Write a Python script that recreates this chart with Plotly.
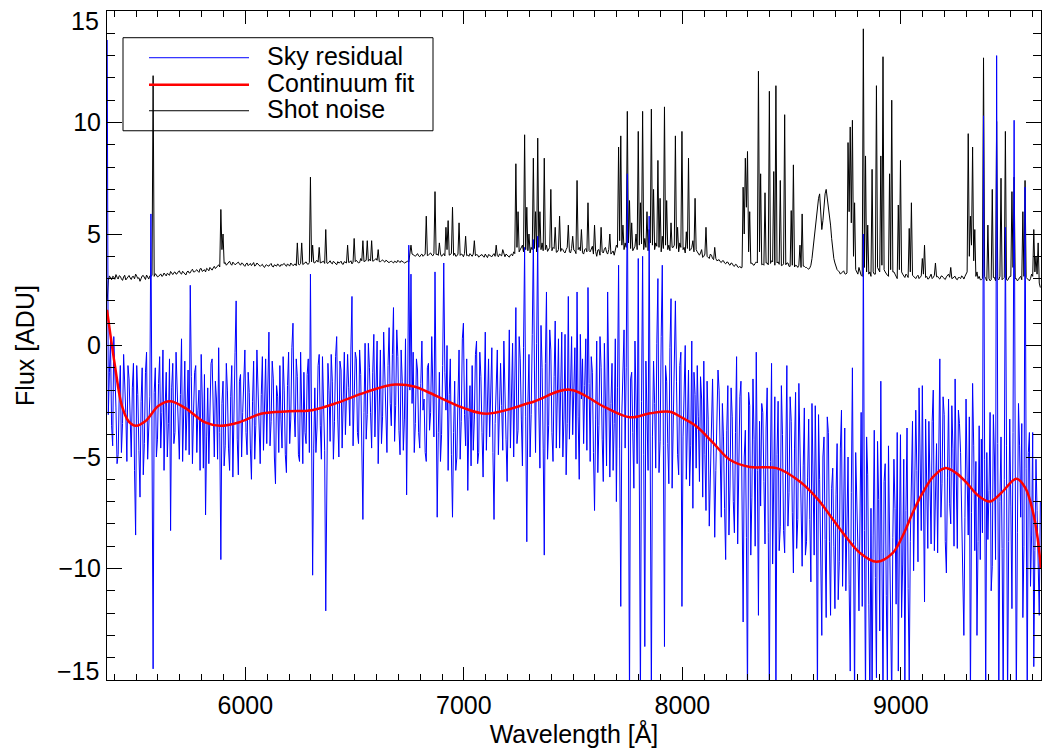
import plotly.graph_objects as go

# ---------------- data ----------------
# Spectra read on two interleaved wavelength grids:
# grid A: 5368, 5378, ...   grid B: 5373, 5383, ...
wl_start_a = 5368
wl_start_b = 5373
wl_step = 10

sky_residual_a = [
    13.7, -1.2, -3.6, 0.4, -2.8, -4.9, -0.9, -3.5, -1.6, -5.2,
    -1.5, -5.0, -0.8, -8.5, -2.2, -6.8, -1.0, -4.4, -0.3, -3.9,
    5.9, -14.5, -1.0, -4.2, -0.5, -3.0, -5.6, -1.2, -3.5, -8.3,
    -0.8, -3.9, -1.7, -5.1, 0.3, -2.6, -4.7, -1.1, 2.7, -5.3,
    -1.2, -4.8, -2.0, -0.4, -5.5, -7.6, -1.9, -3.3, -0.6, -5.0,
    -2.4, -0.1, -9.6, -1.6, -4.5, -2.0, -5.6, -0.9, -3.8, 2.0,
    -5.8, -1.3, -3.0, -0.2, -4.9, -2.1, -6.0, -0.7, -3.6, -1.8,
    -5.3, -0.5, -2.8, -4.4, 0.6, -3.4, -1.5, -6.2, -2.3, -0.9,
    -4.6, -2.0, -5.7, -0.3, -3.3, 1.0, -4.1, -1.4, -5.2, -2.5,
    -1.2, -4.4, -0.6, 3.2, -10.3, -1.9, -3.7, -0.4, -5.1, -2.2,
    -11.9, -0.8, -4.3, -1.6, -3.4, 0.4, -5.0, -1.1, -2.6, -4.0,
    -0.4, -3.6, 2.2, -2.9, -0.6, -4.4, -1.3, -7.8, 0.1, -3.1,
    -1.0, -4.6, 0.5, -2.5, -5.3, -0.2, -3.2, -1.4, -4.8, 0.8,
    -3.6, 1.7, -2.7, -0.5, -4.9, -1.6, -3.3, -6.7, 4.5, 3.2,
    -0.3, -3.5, -1.1, -4.6, 0.2, -2.4, -5.2, -0.8, -3.0, -1.5,
    3.3, -7.7, -1.2, -4.0, 3.7, -2.9, -5.6, -0.6, -7.7, -1.6,
    -5.0, -0.2, -3.4, 1.0, -4.5, -6.5, -1.8, -0.9, -3.3, 0.2,
    -4.8, -1.4, -5.9, 0.6, -2.6, -4.1, -0.1, -7.8, -2.2, -4.9,
    -0.8, -4.7, -1.5, -6.1, 0.7, -2.3, -5.0, 1.7, -3.8, -0.6,
    -5.4, 4.4, -8.8, -0.4, -3.1, 4.75, -4.8, 4.9, -5.5, -1.0,
    -9.4, 2.4, -3.6, -0.2, -5.2, 1.1, -2.7, -4.6, 0.6, -3.3,
    -5.8, 2.2, -1.9, -4.0, -0.1, 2.4, -6.0, -2.4, -4.4, 0.3,
    2.6, -5.2, -1.2, -7.4, 0.2, -3.6, -1.0, -6.1, -2.4, 2.4,
    -5.9, -0.8, -3.5, -7.0, 3.6, -11.7, -1.3, -4.6, 7.7, -16.0,
    -1.2, -6.4, -2.0, 3.9, -16.0, 4.0, -13.5, -2.8, 5.8, -16.0,
    -0.7, -5.5, 3.0, -4.3, 3.6, -13.5, -1.6, -6.2, 2.1, -3.9,
    2.0, -4.9, -0.9, -11.7, -2.4, -6.0, -1.1, -4.5, -7.3, -2.2,
    -0.9, -6.1, -2.4, -0.7, -7.4, -3.3, -5.9, -1.5, -8.6, -3.8,
    -2.0, -7.7, -4.1, -9.6, -1.8, -6.3, -3.2, -8.4, -0.5, -5.9,
    -1.6, -12.4, -3.8, -16.0, -2.7, -6.8, -4.2, -0.3, -12.1, -7.2,
    -3.0, -8.9, -1.9, -16.0, -0.8, -6.4, -16.0, -2.5, -8.1, -4.0,
    -9.3, -0.9, -6.6, -3.4, -10.2, -2.1, -7.8, -4.9, -9.9, -2.8,
    -8.8, -3.3, -10.6, -5.2, -2.7, -16.0, -6.0, -13.0, -4.1, -12.2,
    -3.9, -12.1, -5.5, -11.8, -4.4, -9.7, -2.9, -7.3, -11.0, -5.0,
    -14.6, -1.0, -16.0, -6.4, -11.9, -3.0, 5.0, -16.0, -5.8, -16.0,
    -16.0, -3.8, -14.9, -6.9, -1.6, -16.0, -5.3, -15.0, -7.9, -16.0,
    -5.1, -11.6, -14.6, -4.0, -9.8, -15.3, -3.7, -15.0, -5.6, -10.1,
    -2.9, -9.7, -4.3, -1.8, -11.5, -6.8, -3.4, -8.9, -2.0, -7.2,
    -9.3, -0.6, -6.2, -3.1, -10.2, -2.4, -8.0, -4.6, -1.5, -9.1,
    -3.5, -7.6, -13.0, -2.4, -8.5, -16.0, -1.7, -9.2, -13.0, -3.6,
    -4.2, 10.3, -16.0, -8.7, -3.0, -9.9, -5.0, 13.0, -16.0, -4.1,
    -16.0, 5.3, -16.0, -3.3, -11.8, 10.1, -16.0, -2.6, -7.7, -12.2,
    7.1, -16.0, -3.9, -8.5, -14.4, -5.1, -10.3, -7.0,
]

sky_residual_b = [
    -3.1, 0.2, -4.5, -1.0, -5.3, -2.2, -4.8, -0.4, -3.0, -0.9,
    -4.1, -1.9, -5.6, -0.9, -4.7, -2.5, -5.8, -1.2, -5.1, -2.3,
    -4.0, -2.1, -5.0, -1.7, -4.6, -0.2, -2.8, -5.0, -0.6, -1.9,
    -4.4, -0.3, -3.8, -2.2, -5.2, -0.7, -2.3, -4.9, -1.4, -3.0,
    -0.9, -2.9, -5.6, -2.4, -1.3, -4.1, -5.3, -0.8, -3.7, -1.6,
    -5.1, -3.9, -2.6, -5.4, -0.8, -4.6, -2.3, -5.9, -0.3, -4.2,
    -1.6, -5.0, -0.9, -3.9, -1.2, -4.6, -2.5, -5.1, -0.2, -4.4,
    -2.2, -4.7, -0.6, -1.9, -4.5, -0.7, -5.0, -1.8, -4.8, -3.3,
    -0.5, -4.9, -1.8, -4.4, -0.1, -2.9, -0.6, -4.9, -0.3, -5.3,
    -3.9, -1.3, -4.8, -3.5, -4.6, -4.8, -0.9, -3.6, -0.5, -4.7,
    -3.7, -2.0, -0.4, -5.1, -0.5, -3.3, -0.7, -4.6, -0.3, -1.4,
    -1.9, -0.2, -4.5, -0.3, -3.9, -0.2, -4.9, -3.0, -4.2, 0.1,
    -3.0, -1.2, -4.1, 0.2, -2.2, -4.4, 0.6, -3.7, -0.9, -2.6,
    -0.4, -4.3, 0.7, -3.8, -0.2, -4.7, 0.3, -1.9, -2.0, -2.6,
    -4.8, -0.6, -3.9, -1.7, -2.9, -4.8, -1.0, -3.8, 0.4, -4.1,
    -2.5, -3.9, -5.2, -0.9, -1.2, 0.0, -2.2, -4.9, -3.9, -5.6,
    -2.4, -5.1, 0.3, -3.1, -0.6, -3.3, -5.4, -4.7, -0.4, -5.3,
    -0.3, -3.9, -2.4, -4.7, -0.6, -1.4, -4.8, -3.5, -0.2, -2.4,
    -2.7, 0.2, -4.2, -1.3, -4.6, 0.1, -1.6, -4.4, 0.4, -3.3,
    -0.1, -3.2, -2.6, -5.0, 0.5, -1.1, 0.1, -2.8, 0.9, -4.6,
    -0.8, -5.1, 0.7, -3.9, -1.4, -4.6, 0.3, -1.3, -5.0, 0.5,
    -3.5, -4.2, 0.4, -1.8, -5.1, -3.2, 0.5, -0.6, -1.8, -4.7,
    -1.7, -0.5, -4.8, -3.3, -5.7, 0.4, -4.2, 0.1, -5.4, -0.8,
    -2.6, -5.6, 0.3, -1.9, -4.6, -3.0, 0.7, -1.0, -4.4, -1.5,
    -3.9, 0.2, -5.3, -4.8, -2.5, -4.9, -0.7, -5.6, -3.3, -4.1,
    -2.6, 0.1, -5.7, 0.4, -4.5, -0.9, -4.4, -0.1, -6.4, -0.5,
    -1.6, -5.8, -0.3, -4.1, 0.0, -2.9, -6.3, 0.2, -1.2, -5.5,
    -3.2, -1.4, -6.8, -4.9, -1.6, -8.1, -2.4, -4.6, -5.6, -1.1,
    -4.9, -2.6, -7.3, -3.8, -8.5, -1.9, -7.0, -3.9, -8.9, -2.3,
    -7.9, -5.0, -8.6, -2.1, -9.4, -1.5, -9.0, -5.6, -3.4, -2.6,
    -6.1, -3.7, -8.4, -5.2, -9.8, -2.3, -4.9, -9.2, -1.8, -8.3,
    -4.4, -8.1, -2.3, -7.5, -4.6, -9.1, -1.7, -6.9, -5.4, -9.4,
    -5.9, -7.8, -2.6, -9.4, -6.3, -3.1, -9.5, -5.0, -8.7, -3.2,
    -8.8, -6.4, -9.0, -6.7, -11.4, -4.6, -10.8, -3.7, -7.9, -10.7,
    -6.6, -8.8, -4.8, -9.0, -7.4, -11.7, -8.3, -4.1, -11.6, -7.3,
    -8.5, -10.4, -4.3, -12.8, -9.3, -6.1, -11.2, -4.5, -12.4, -8.6,
    -7.3, -3.9, -8.8, -12.2, -5.1, -7.4, -10.9, -8.8, -3.4, -6.2,
    -5.6, -1.9, -8.3, -6.9, -3.3, -9.1, -5.6, -3.4, -9.2, -4.4,
    -4.4, -7.7, -2.3, -8.8, -5.9, -7.1, -2.7, -9.0, -5.7, -2.9,
    -4.8, -10.1, -7.7, -5.9, -3.2, -7.5, -4.5, -5.2, -8.8, -9.6,
    -8.4, -5.1, -4.8, -6.5, -11.0, -3.1, -9.6, -4.4, -7.0, -9.1,
    -6.0, -4.5, -8.8, -7.2, -3.9, -5.0, -8.4, -4.5, -3.5, -9.0,
    -5.5, -4.8, -10.8, -3.9, -9.2, -7.4, -12.1,
]

shot_noise_a = [
    2.0, 3.12, 2.95, 3.08, 3.18, 2.98, 3.1, 2.92, 3.15, 3.02,
    3.14, 2.96, 3.1, 3.2, 3.0, 2.88, 3.12, 3.05, 3.16, 2.98,
    3.1, 12.1, 3.22, 3.08, 3.18, 3.1, 3.25, 3.12, 3.2, 3.32,
    3.18, 3.3, 3.22, 3.35, 3.2, 3.28, 3.16, 3.34, 3.26, 3.42,
    3.3, 3.4, 3.28, 3.45, 3.36, 3.3, 3.42, 3.5, 3.38, 3.55,
    3.5, 3.62, 6.1, 5.0, 3.72, 3.65, 3.78, 3.6, 3.7, 3.66,
    3.74, 3.6, 3.68, 3.55, 3.7, 3.62, 3.58, 3.72, 3.6, 3.66,
    3.55, 3.64, 3.5, 3.62, 3.56, 3.68, 3.52, 3.6, 3.66, 3.54,
    3.6, 3.68, 3.55, 3.62, 3.7, 3.58, 3.66, 4.6, 3.62, 4.6,
    3.68, 3.75, 3.64, 7.55, 4.5, 3.7, 3.82, 4.4, 3.72, 3.78,
    5.2, 3.68, 3.8, 3.66, 3.74, 3.62, 3.7, 3.78, 3.64, 3.72,
    4.5, 3.74, 3.66, 4.8, 3.82, 3.7, 3.9, 4.7, 3.78, 4.7,
    3.86, 4.7, 3.8, 3.9, 4.3, 3.76, 3.84, 3.74, 3.8, 3.72,
    3.78, 3.7, 3.76, 3.82, 3.72, 3.78, 3.7, 3.76, 3.74, 4.5,
    4.08, 4.0, 4.12, 3.98, 4.1, 4.04, 5.8, 4.06, 4.15, 4.02,
    6.9, 4.1, 4.6, 4.0, 4.12, 5.3, 5.6, 4.08, 6.2, 4.14,
    4.02, 5.5, 4.1, 3.98, 4.9, 4.06, 4.12, 4.0, 4.7, 4.08,
    3.96, 4.06, 4.0, 4.1, 3.94, 4.04, 3.98, 4.12, 4.5, 3.98,
    4.06, 4.3, 3.98, 4.04, 3.96, 4.1, 4.2, 8.15, 6.0, 4.3,
    4.5, 9.45, 6.2, 5.0, 4.4, 8.4, 6.0, 9.3, 6.0, 4.6,
    8.4, 4.5, 4.3, 7.0, 4.4, 5.3, 4.2, 5.8, 4.35, 4.2,
    4.3, 5.4, 4.15, 4.9, 4.25, 7.4, 4.4, 5.2, 4.1, 4.35,
    6.4, 4.2, 4.45, 5.4, 4.0, 4.3, 5.3, 4.15, 4.4, 4.1,
    5.0, 4.2, 4.05, 4.5, 8.9, 9.4, 5.4, 4.6, 10.5, 6.5,
    5.5, 4.4, 5.0, 9.6, 6.4, 10.5, 4.8, 6.0, 5.2, 10.6,
    7.0, 4.6, 8.3, 6.6, 4.9, 10.7, 6.5, 4.5, 5.5, 4.4,
    9.4, 5.3, 4.6, 9.6, 4.4, 5.1, 8.4, 4.3, 4.7, 6.6,
    4.2, 4.05, 4.3, 4.0, 5.3, 3.95, 4.1, 3.9, 4.4, 3.8,
    3.85, 3.72, 3.8, 3.66, 3.74, 3.6, 3.68, 3.55, 3.62, 3.5,
    3.48, 7.1, 8.4, 8.7, 6.0, 3.7, 3.6, 3.75, 12.3, 7.7,
    3.65, 6.85, 3.7, 11.4, 3.8, 7.8, 11.65, 3.75, 7.4, 3.6,
    10.35, 3.7, 3.55, 6.05, 8.1, 3.6, 3.5, 4.5, 5.9, 3.55,
    3.5, 3.42, 3.6, 4.4, 5.4, 6.3, 6.8, 5.2, 6.4, 7.0,
    6.2, 5.4, 4.3, 3.7, 3.4, 3.3, 3.25, 3.35, 3.2, 9.1,
    9.8, 10.1, 6.4, 3.3, 3.5, 3.15, 14.2, 8.5, 5.4, 3.3,
    7.9, 3.2, 11.65, 3.4, 8.5, 12.95, 3.3, 3.15, 7.7, 11.0,
    3.3, 3.1, 6.3, 8.3, 3.2, 3.05, 3.15, 5.25, 6.4, 3.1,
    3.0, 3.15, 3.05, 3.9, 4.5, 3.1, 3.0, 3.2, 3.05, 3.7,
    3.1, 2.98, 3.12, 3.0, 3.08, 3.2, 3.5, 3.02, 3.1, 2.95,
    3.05, 3.12, 2.98, 3.2, 9.5, 5.8, 8.9, 5.2, 3.3, 3.1,
    2.95, 12.9, 3.0, 5.4, 2.9, 7.0, 3.05, 10.05, 2.95, 7.5,
    3.0, 9.6, 2.92, 3.1, 6.9, 7.55, 3.0, 2.95, 3.1, 6.0,
    7.4, 3.0, 2.9, 3.2, 5.2, 4.0, 4.6, 2.6,
]

shot_noise_b = [
    2.9, 3.04, 3.1, 2.97, 3.06, 3.13, 2.99, 3.07, 2.94, 3.1,
    3.03, 3.09, 2.99, 3.11, 3.04, 3.0, 3.14, 2.96, 3.08, 3.12,
    3.14, 3.1, 3.16, 3.1, 3.21, 3.13, 3.19, 3.24, 3.15, 3.24,
    3.27, 3.2, 3.31, 3.24, 3.33, 3.21, 3.3, 3.25, 3.36, 3.3,
    3.36, 3.33, 3.44, 3.32, 3.4, 3.46, 3.35, 3.44, 3.48, 3.45,
    3.58, 3.52, 4.3, 3.68, 3.6, 3.72, 3.66, 3.74, 3.62, 3.7,
    3.66, 3.7, 3.6, 3.66, 3.58, 3.68, 3.64, 3.56, 3.7, 3.61,
    3.6, 3.54, 3.6, 3.57, 3.63, 3.55, 3.62, 3.56, 3.59, 3.63,
    3.64, 3.6, 3.66, 3.56, 3.64, 3.62, 3.58, 3.64, 3.68, 3.63,
    3.7, 3.66, 3.72, 3.75, 3.72, 3.78, 3.74, 3.7, 3.76, 3.68,
    3.7, 3.74, 3.7, 3.78, 3.68, 3.76, 3.72, 3.66, 3.76, 3.7,
    3.72, 3.8, 3.74, 3.76, 3.78, 3.72, 3.8, 3.76, 3.82, 3.78,
    3.8, 3.78, 3.84, 3.82, 3.76, 3.8, 3.78, 3.82, 3.74, 3.76,
    3.74, 3.78, 3.72, 3.76, 3.8, 3.74, 3.72, 3.78, 4.05, 4.1,
    4.04, 4.09, 4.02, 4.06, 4.0, 4.1, 4.03, 4.1, 4.06, 4.12,
    4.08, 4.04, 4.1, 4.06, 4.02, 4.3, 4.05, 4.12, 4.04, 4.0,
    4.1, 4.04, 4.08, 4.12, 4.03, 4.0, 4.06, 4.1, 4.02, 4.06,
    4.02, 4.08, 3.96, 4.02, 4.08, 3.98, 4.06, 4.0, 4.04, 4.1,
    4.02, 4.06, 4.1, 3.98, 4.06, 4.02, 4.12, 4.4, 4.2, 4.35,
    4.2, 4.3, 4.25, 4.15, 4.3, 4.35, 4.2, 4.4, 4.3, 4.25,
    4.3, 4.22, 4.4, 4.25, 4.35, 4.18, 4.3, 4.22, 4.3, 4.15,
    4.4, 4.2, 4.35, 4.28, 4.12, 4.3, 4.25, 4.16, 4.3, 4.2,
    4.25, 4.35, 4.1, 4.22, 4.28, 4.05, 4.2, 4.32, 4.18, 4.3,
    4.1, 4.24, 4.3, 4.4, 4.7, 4.5, 4.3, 4.4, 4.6, 4.35,
    4.25, 4.45, 4.3, 4.5, 4.55, 4.3, 4.4, 4.25, 4.6, 4.5,
    4.3, 4.45, 4.4, 4.2, 4.35, 4.5, 4.3, 4.25, 4.4, 4.5,
    4.35, 4.2, 4.4, 4.3, 4.15, 4.35, 4.25, 4.4, 4.2, 4.3,
    4.1, 4.15, 3.95, 4.1, 4.0, 3.9, 4.05, 3.85, 3.9, 3.82,
    3.76, 3.8, 3.7, 3.74, 3.64, 3.7, 3.58, 3.64, 3.52, 3.55,
    3.5, 5.0, 6.2, 4.2, 3.68, 3.62, 3.68, 3.7, 4.2, 3.62,
    3.6, 3.7, 3.62, 3.68, 3.75, 3.6, 3.7, 3.64, 3.58, 3.66,
    3.62, 3.7, 3.55, 3.6, 3.52, 3.58, 3.6, 3.5, 3.56, 3.5,
    3.45, 3.48, 3.9, 4.9, 5.9, 6.6, 5.9, 5.6, 6.8, 6.6,
    5.9, 4.8, 3.9, 3.5, 3.35, 3.2, 3.3, 3.22, 3.25, 6.0,
    5.5, 4.0, 3.4, 3.2, 3.3, 3.1, 3.5, 3.3, 3.2, 3.1,
    3.3, 3.2, 3.5, 3.3, 3.6, 3.4, 3.2, 3.1, 3.4, 3.3,
    3.2, 3.0, 3.4, 3.3, 3.1, 3.2, 3.05, 3.3, 3.15, 3.05,
    3.1, 3.0, 3.12, 3.2, 3.05, 2.98, 3.1, 3.0, 3.15, 3.08,
    3.02, 3.1, 3.05, 2.96, 3.12, 3.06, 3.0, 3.08, 2.98, 3.05,
    3.0, 3.08, 3.1, 3.3, 4.0, 4.5, 3.8, 3.1, 3.0, 2.95,
    3.0, 3.1, 2.9, 3.0, 2.95, 3.05, 2.9, 3.0, 3.1, 2.95,
    3.05, 2.95, 3.0, 3.1, 3.5, 3.0, 2.9, 3.05, 2.95, 3.1,
    3.05, 2.92, 3.0, 3.1, 3.3, 3.2, 2.8,
]

fit_wavelength = [
    5367, 5404, 5435, 5466, 5500, 5542, 5603, 5656, 5724, 5816, 5885, 5969,
    6076, 6198, 6305, 6427, 6549, 6685, 6777, 6845, 6998, 7104, 7303, 7485,
    7638, 7760, 7852, 7943, 8004, 8065, 8141, 8217, 8309, 8431, 8537, 8620,
    8689, 8750, 8812, 8888, 8963, 9010, 9054, 9100, 9146, 9201, 9250, 9300,
    9350, 9406, 9460, 9529, 9570, 9605, 9625, 9641,
]
fit_flux = [
    1.6, -0.95, -2.7, -3.4, -3.6, -3.4, -2.7, -2.5, -2.8, -3.45, -3.6, -3.45,
    -3.05, -2.95, -2.9, -2.55, -2.1, -1.75, -1.85, -2.13, -2.8, -3.06, -2.57, -1.98,
    -2.73, -3.22, -3.04, -2.97, -3.27, -3.63, -4.37, -5.12, -5.45, -5.5, -6.1, -6.9,
    -7.8, -8.6, -9.3, -9.7, -9.3, -8.5, -7.5, -6.6, -5.9, -5.5, -5.7, -6.15,
    -6.7, -7.0, -6.6, -5.98, -6.4, -7.5, -8.6, -10.0,
]

legend_labels = ["Sky residual", "Continuum fit", "Shot noise"]
legend_colors = ["#0000ff", "#ff0000", "#000000"]
legend_widths = [1, 2.5, 1]

x_range = [5367, 9641]
y_range = [-15, 15]
y_tick_values = [-15, -10, -5, 0, 5, 10, 15]
y_edge_labels = {15: "15", -15: "\u221215"}   # end labels kept inside the frame, as in the original


# ---------------- helpers ----------------
def merge_grids(vals_a, vals_b):
    pts = [(wl_start_a + wl_step * i, v) for i, v in enumerate(vals_a)]
    pts += [(wl_start_b + wl_step * i, v) for i, v in enumerate(vals_b)]
    pts.sort(key=lambda p: p[0])
    return [p[0] for p in pts], [p[1] for p in pts]


sky_wl, sky_val = merge_grids(sky_residual_a, sky_residual_b)
shot_wl, shot_val = merge_grids(shot_noise_a, shot_noise_b)

FONT = "Liberation Sans, Arial, Helvetica, sans-serif"
FS = 25

fig = go.Figure()
fig.add_trace(go.Scatter(x=shot_wl, y=shot_val, mode="lines",
                         line=dict(color="#000000", width=1), name="Shot noise"))
fig.add_trace(go.Scatter(x=sky_wl, y=sky_val, mode="lines",
                         line=dict(color="#0000ff", width=1), name="Sky residual"))
fig.add_trace(go.Scatter(x=fit_wavelength, y=fit_flux, mode="lines",
                         line=dict(color="#ff0000", width=2.5, shape="spline"),
                         name="Continuum fit"))

# custom legend (box with long line samples), positioned in paper units
L, R, T, B = 107, 1041, 11.3, 680


def px(xp):
    return (xp - L) / (R - L)


def py(yp):
    return (B - yp) / (B - T)


shapes = [dict(type="rect", xref="paper", yref="paper",
               x0=px(123), x1=px(433), y0=py(131), y1=py(38),
               line=dict(color="black", width=1), fillcolor="rgba(0,0,0,0)")]
annotations = []
line_y = [58, 85, 111]
text_y = [56, 83, 109.6]
for lab, col, w, ly, ty in zip(legend_labels, legend_colors, legend_widths, line_y, text_y):
    shapes.append(dict(type="line", xref="paper", yref="paper",
                       x0=px(149), x1=px(249), y0=py(ly), y1=py(ly),
                       line=dict(color=col, width=w)))
    annotations.append(dict(xref="paper", yref="paper", x=px(265), y=py(ty),
                            text=lab, showarrow=False, xanchor="left", yanchor="middle",
                            font=dict(family=FONT, size=FS, color="black")))

# y tick labels: interior ones from the axis, end ones nudged inside the frame
y_tick_text = ["" if v in y_edge_labels else str(v).replace("-", "\u2212") for v in y_tick_values]
for v, txt in y_edge_labels.items():
    annotations.append(dict(xref="paper", yref="y", x=0, y=v, text=txt, showarrow=False,
                            xanchor="right", yanchor="top" if v > 0 else "bottom",
                            xshift=-6, yshift=6 if v > 0 else -7,
                            font=dict(family=FONT, size=FS, color="black")))

axis_common = dict(showline=True, linecolor="black", linewidth=1, mirror="ticks",
                   ticks="inside", tickcolor="black", tickwidth=1,
                   showgrid=False, zeroline=False,
                   tickfont=dict(family=FONT, size=FS, color="black"))

fig.update_layout(
    width=1042, height=751,
    margin=dict(l=107, r=1, t=11, b=71, autoexpand=False),
    paper_bgcolor="white", plot_bgcolor="white",
    showlegend=False,
    shapes=shapes, annotations=annotations,
    font=dict(family=FONT, size=FS, color="black"),
    xaxis=dict(range=x_range, tick0=0, dtick=1000, ticklen=13, ticklabelstandoff=3,
               minor=dict(dtick=100, ticks="inside", ticklen=6, tickcolor="black",
                          tickwidth=1, showgrid=False),
               title=dict(text="Wavelength [Å]", standoff=2,
                          font=dict(family=FONT, size=FS, color="black")),
               automargin=False, **axis_common),
    yaxis=dict(range=y_range, tickmode="array", tickvals=y_tick_values,
               ticktext=y_tick_text, ticklen=15,
               minor=dict(dtick=1, ticks="inside", ticklen=8, tickcolor="black",
                          tickwidth=1, showgrid=False),
               title=dict(text="Flux [ADU]", standoff=16,
                          font=dict(family=FONT, size=FS, color="black")),
               automargin=False, **axis_common),
)

fig.write_html("out.html")
